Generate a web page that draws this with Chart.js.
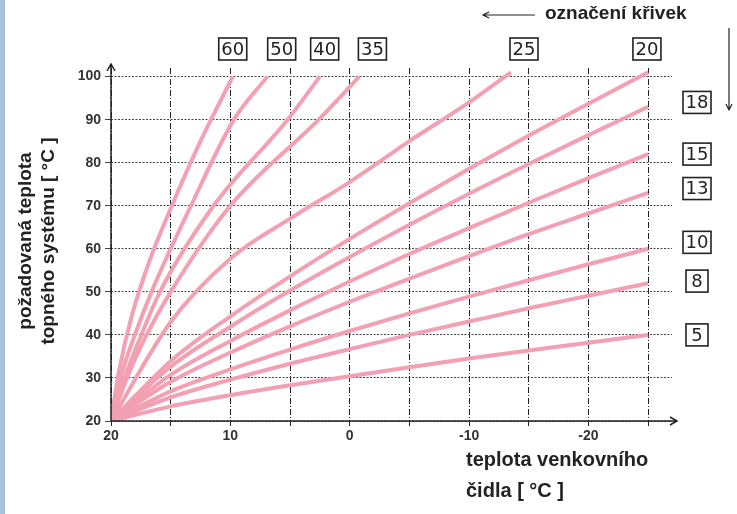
<!DOCTYPE html>
<html>
<head>
<meta charset="utf-8">
<script src="https://cdn.jsdelivr.net/npm/chart.js@4"></script>
<style>
  body { margin: 0; background: #fff; font-family: "Liberation Sans", Arial, sans-serif; }
  #wrap { position: relative; width: 737px; height: 514px; }
  #strip { position: absolute; left: 0; top: 0; width: 5px; height: 514px; background: #a8c2dc; }
  .t { position: absolute; font-weight: bold; color: #222; white-space: nowrap; }
</style>
</head>
<body>
<div id="wrap">
  <canvas id="chart" width="737" height="514"></canvas>
  <div id="strip"></div>
  <div class="t" style="left:466px;top:448px;font-size:20px;">teplota venkovního</div>
  <div class="t" style="left:466px;top:479px;font-size:20px;">čidla [ °C ]</div>
  <div class="t" style="left:-104px;top:218px;width:280px;text-align:center;font-size:19px;line-height:23px;transform:rotate(-90deg);">požadovaná teplota<br>topného systému [ °C ]</div>
  <div class="t" style="left:545px;top:2px;font-size:19px;">označení křivek</div>
</div>
<script>
// Data
const flatX = [20, 15, 10, 5, 0, -5, -10, -15, -20, -25];
const curve20 = [20, 33.9, 44.3, 53.6, 62.3, 70.6, 78.6, 86.3, 93.7, 101];
const curve18 = [20, 32.6, 41.9, 50.3, 58.1, 65.6, 72.8, 79.7, 86.4, 93];
const curve15 = [20, 30.7, 38.6, 45.7, 52.4, 58.8, 64.8, 70.7, 76.4, 82];
const curve13 = [20, 29.1, 35.9, 42.0, 47.7, 53.1, 58.3, 63.4, 68.2, 73];
const curve10 = [20, 26.9, 32.0, 36.6, 40.9, 45.0, 48.9, 52.7, 56.4, 60];
const curve8 = [20, 25.5, 29.6, 33.3, 36.7, 40.0, 43.1, 46.2, 49.1, 52];
const curve5 = [20, 23.4, 26.0, 28.3, 30.4, 32.5, 34.5, 36.4, 38.2, 40];
const curve60 = [[20, 20], [19.3, 32], [18.3, 44], [16.8, 57], [14.9, 70], [12.5, 85], [9.8, 100]];
const curve50 = [[20, 20], [19.2, 30], [18, 40], [16.6, 50], [13.3, 70], [9.7, 90], [6.9, 100]];
const curve40 = [[20, 20], [19, 29], [17.6, 39], [15.9, 50], [11.4, 70], [5.2, 90], [2.5, 100]];
const curve35 = [[20, 20], [18.8, 29], [17.2, 39], [15, 50], [10, 70], [2.6, 90], [-0.8, 100]];
const curve25 = [[20, 20], [15, 43], [10, 57.7], [5, 67], [0, 75.5], [-5, 85], [-10, 94], [-13.5, 101]];

const yTicks = [20, 30, 40, 50, 60, 70, 80, 90, 100];
const xTicks = [20, 15, 10, 5, 0, -5, -10, -15, -20, -25];
const xLabelled = [20, 10, 0, -10, -20];

const topLabels = ['60', '50', '40', '35', '25', '20'];
const topLabelX = [9.8, 5.7, 2.1, -1.9, -14.6, -24.9];
const rightLabels = ['18', '15', '13', '10', '8', '5'];
const rightLabelY = [94, 82, 74, 61.5, 52.5, 40];

const flatSets = [curve20, curve18, curve15, curve13, curve10, curve8, curve5]
  .map(vals => vals.map((v, i) => ({ x: flatX[i], y: v })));
const steepSets = [curve60, curve50, curve40, curve35, curve25]
  .map(pts => pts.map(p => ({ x: p[0], y: p[1] })));

const pink = '#f2a0b2';

const decor = {
  id: 'decor',
  afterDraw(chart) {
    const { ctx, scales: { x, y }, chartArea: a } = chart;
    ctx.save();
    ctx.strokeStyle = '#222';
    ctx.fillStyle = '#222';
    ctx.lineWidth = 1.5;
    // axes with arrows
    ctx.beginPath();
    ctx.moveTo(a.left, a.bottom); ctx.lineTo(a.left, a.top - 4);
    ctx.moveTo(a.left - 4, a.top + 3); ctx.lineTo(a.left, a.top - 4); ctx.lineTo(a.left + 4, a.top + 3);
    ctx.moveTo(a.left, a.bottom); ctx.lineTo(a.right + 5, a.bottom);
    ctx.moveTo(a.right - 2, a.bottom - 4); ctx.lineTo(a.right + 5, a.bottom); ctx.lineTo(a.right - 2, a.bottom + 4);
    ctx.stroke();
    // legend arrows
    ctx.lineWidth = 1.2;
    ctx.beginPath();
    ctx.moveTo(483, 15); ctx.lineTo(535, 15);
    ctx.moveTo(489, 12); ctx.lineTo(483, 15); ctx.lineTo(489, 18);
    ctx.moveTo(729, 28); ctx.lineTo(729, 110);
    ctx.moveTo(726, 104); ctx.lineTo(729, 110); ctx.lineTo(732, 104);
    ctx.stroke();
    // boxed curve labels
    ctx.font = '18px "DejaVu Sans", sans-serif';
    ctx.textAlign = 'center';
    ctx.textBaseline = 'middle';
    const box = (txt, cx, cy) => {
      const w = txt.length > 1 ? 28 : 22;
      ctx.lineWidth = 1.6;
      ctx.strokeRect(cx - w / 2, cy - 11, w, 22);
      ctx.fillText(txt, cx, cy + 1);
    };
    topLabels.forEach((t, i) => box(t, x.getPixelForValue(topLabelX[i]), 49));
    rightLabels.forEach((t, i) => box(t, 697, y.getPixelForValue(rightLabelY[i])));
    ctx.restore();
  }
};

new Chart(document.getElementById('chart'), {
  type: 'scatter',
  data: {
    datasets: [...steepSets, ...flatSets].map(d => ({
      data: d, showLine: true, cubicInterpolationMode: 'monotone', borderColor: pink,
      borderWidth: 4, pointRadius: 0, fill: false
    }))
  },
  options: {
    responsive: false,
    animation: false,
    layout: { padding: { left: 0, top: 68, right: 65, bottom: 71 } },
    plugins: { legend: { display: false }, tooltip: { enabled: false } },
    scales: {
      x: {
        type: 'linear', reverse: true, min: -27, max: 20,
        afterBuildTicks: ax => { ax.ticks = xTicks.map(v => ({ value: v })); },
        afterFit: ax => { ax.height = 22; },
        border: { display: false, dash: [6, 2, 1, 2] },
        grid: { color: '#222', lineWidth: 1, tickLength: 5 },
        ticks: {
          autoSkip: false, maxRotation: 0, padding: 2, color: '#333',
          font: { size: 14, weight: 'bold' },
          callback: v => xLabelled.includes(v) ? String(v) : ''
        }
      },
      y: {
        min: 20, max: 102,
        afterBuildTicks: ax => { ax.ticks = yTicks.map(v => ({ value: v })); },
        afterFit: ax => { ax.width = 111; },
        border: { display: false, dash: [2, 1.5] },
        grid: { color: '#444', lineWidth: 1, tickLength: 6 },
        ticks: { padding: 4, color: '#333', font: { size: 14, weight: 'bold' } }
      }
    }
  },
  plugins: [decor]
});
</script>
</body>
</html>
